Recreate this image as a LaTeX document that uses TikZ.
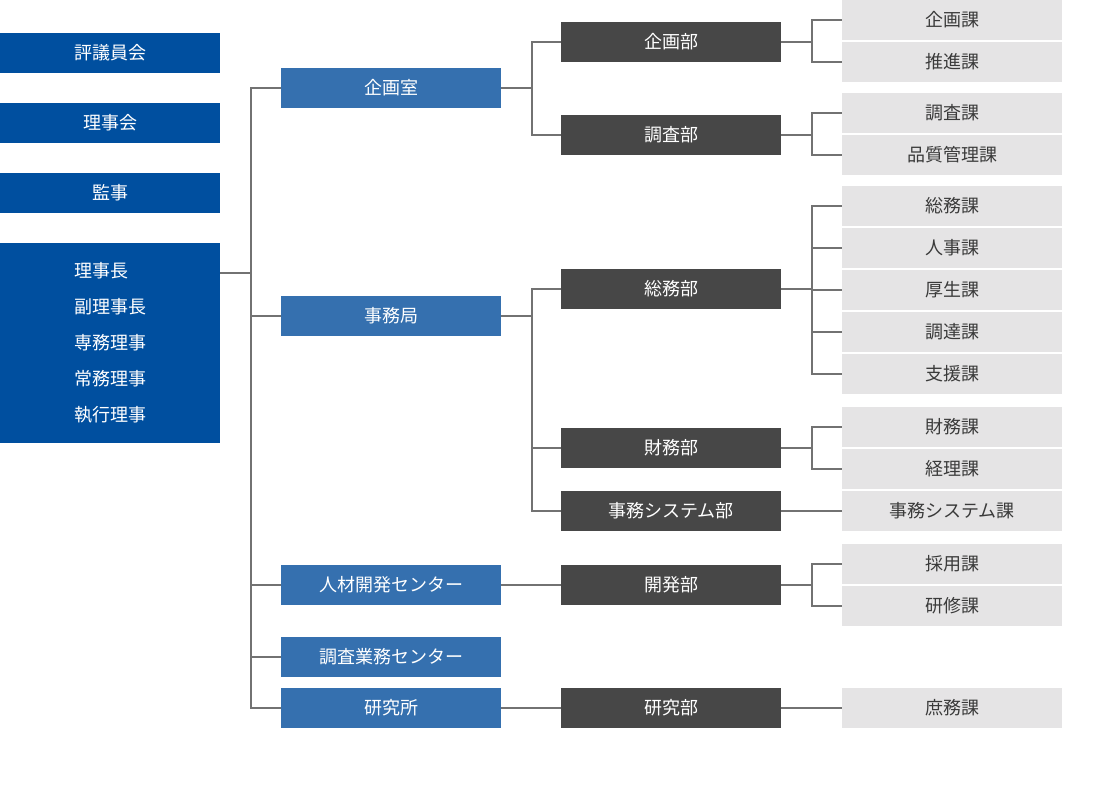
\documentclass[tikz,border=0pt]{standalone}
\usepackage{fontspec}
\setmainfont{Noto Sans CJK JP}
\usepackage{tikz}
\usetikzlibrary{positioning}
\definecolor{boardblue}{HTML}{004F9F}
\definecolor{officeblue}{HTML}{3570AF}
\definecolor{deptgray}{HTML}{474747}
\definecolor{sectgray}{HTML}{E5E4E5}
\definecolor{sectink}{HTML}{3A3A3A}
\definecolor{linegray}{HTML}{727272}

\begin{document}
\begin{tikzpicture}[
    x=1pt, y=-1pt,
    every node/.style={rectangle, inner sep=0pt, outer sep=0pt, minimum width=220pt, minimum height=40pt, font={\fontsize{18}{22}\selectfont}},
    board/.style={fill=boardblue, text=white},
    office/.style={fill=officeblue, text=white},
    dept/.style={fill=deptgray, text=white},
    sect/.style={fill=sectgray, text=sectink},
    link/.style={draw=linegray, line width=2pt}
]
\useasboundingbox (0,0) rectangle (1098,785);
% left column
\node[board] (hyogiin) at (110,53) {評議員会};
\node[board] (rijikai) at (110,123) {理事会};
\node[board] (kanji) at (110,193) {監事};
\node[board, minimum height=200pt, align=left, font={\fontsize{18}{36}\selectfont}] (yakuin) at (110,343) {理事長\\副理事長\\専務理事\\常務理事\\執行理事};
% offices
\node[office] (kikakushitsu) at (391,88) {企画室};
\node[office] (jimukyoku) at (391,316) {事務局};
\node[office] (jinzai) at (391,585) {人材開発センター};
\node[office] (chousacenter) at (391,657) {調査業務センター};
\node[office] (kenkyujo) at (391,708) {研究所};
% departments
\node[dept] (kikakubu) at (671,42) {企画部};
\node[dept] (chousabu) at (671,135) {調査部};
\node[dept] (soumubu) at (671,289) {総務部};
\node[dept] (zaimubu) at (671,448) {財務部};
\node[dept] (jimusysbu) at (671,511) {事務システム部};
\node[dept] (kaihatsubu) at (671,585) {開発部};
\node[dept] (kenkyubu) at (671,708) {研究部};
% sections
\node[sect] (kikakuka) at (952,20) {企画課};
\node[sect] (suishinka) [below=2pt of kikakuka] {推進課};
\node[sect] (chousaka) [below=11pt of suishinka] {調査課};
\node[sect] (hinshitsuka) [below=2pt of chousaka] {品質管理課};
\node[sect] (soumuka) [below=11pt of hinshitsuka] {総務課};
\node[sect] (jinjika) [below=2pt of soumuka] {人事課};
\node[sect] (kouseika) [below=2pt of jinjika] {厚生課};
\node[sect] (choutatsuka) [below=2pt of kouseika] {調達課};
\node[sect] (shienka) [below=2pt of choutatsuka] {支援課};
\node[sect] (zaimuka) [below=13pt of shienka] {財務課};
\node[sect] (keirika) [below=2pt of zaimuka] {経理課};
\node[sect] (jimusyska) [below=2pt of keirika] {事務システム課};
\node[sect] (saiyouka) [below=13pt of jimusyska] {採用課};
\node[sect] (kenshuuka) [below=2pt of saiyouka] {研修課};
\node[sect] (shomuka) at (952,708) {庶務課};
% trunk
\draw[link] ([yshift=-30pt]yakuin.north east) -- ++(31,0) coordinate (trunk);
\draw[link] (trunk) |- (kikakushitsu.west);
\draw[link] (trunk) |- (jimukyoku.west);
\draw[link] (trunk) |- (jinzai.west);
\draw[link] (trunk) |- (chousacenter.west);
\draw[link] (trunk) |- (kenkyujo.west);
% offices to departments
\draw[link] (kikakushitsu.east) -- ++(31,0) |- (kikakubu.west);
\draw[link] (kikakushitsu.east) -- ++(31,0) |- (chousabu.west);
\draw[link] (jimukyoku.east) -- ++(31,0) |- (soumubu.west);
\draw[link] (jimukyoku.east) -- ++(31,0) |- (zaimubu.west);
\draw[link] (jimukyoku.east) -- ++(31,0) |- (jimusysbu.west);
\draw[link] (jinzai) -- (kaihatsubu);
\draw[link] (kenkyujo) -- (kenkyubu);
% departments to sections
\draw[link] (kikakubu.east) -- ++(31,0) |- (kikakuka.west);
\draw[link] (kikakubu.east) -- ++(31,0) |- (suishinka.west);
\draw[link] (chousabu.east) -- ++(31,0) |- (chousaka.west);
\draw[link] (chousabu.east) -- ++(31,0) |- (hinshitsuka.west);
\draw[link] (soumubu.east) -- ++(31,0) |- (soumuka.west);
\draw[link] (soumubu.east) -- ++(31,0) |- (jinjika.west);
\draw[link] (soumubu.east) -- ++(31,0) |- (kouseika.west);
\draw[link] (soumubu.east) -- ++(31,0) |- (choutatsuka.west);
\draw[link] (soumubu.east) -- ++(31,0) |- (shienka.west);
\draw[link] (zaimubu.east) -- ++(31,0) |- (zaimuka.west);
\draw[link] (zaimubu.east) -- ++(31,0) |- (keirika.west);
\draw[link] (jimusysbu) -- (jimusyska);
\draw[link] (kaihatsubu.east) -- ++(31,0) |- (saiyouka.west);
\draw[link] (kaihatsubu.east) -- ++(31,0) |- (kenshuuka.west);
\draw[link] (kenkyubu) -- (shomuka);
\end{tikzpicture}
\end{document}
